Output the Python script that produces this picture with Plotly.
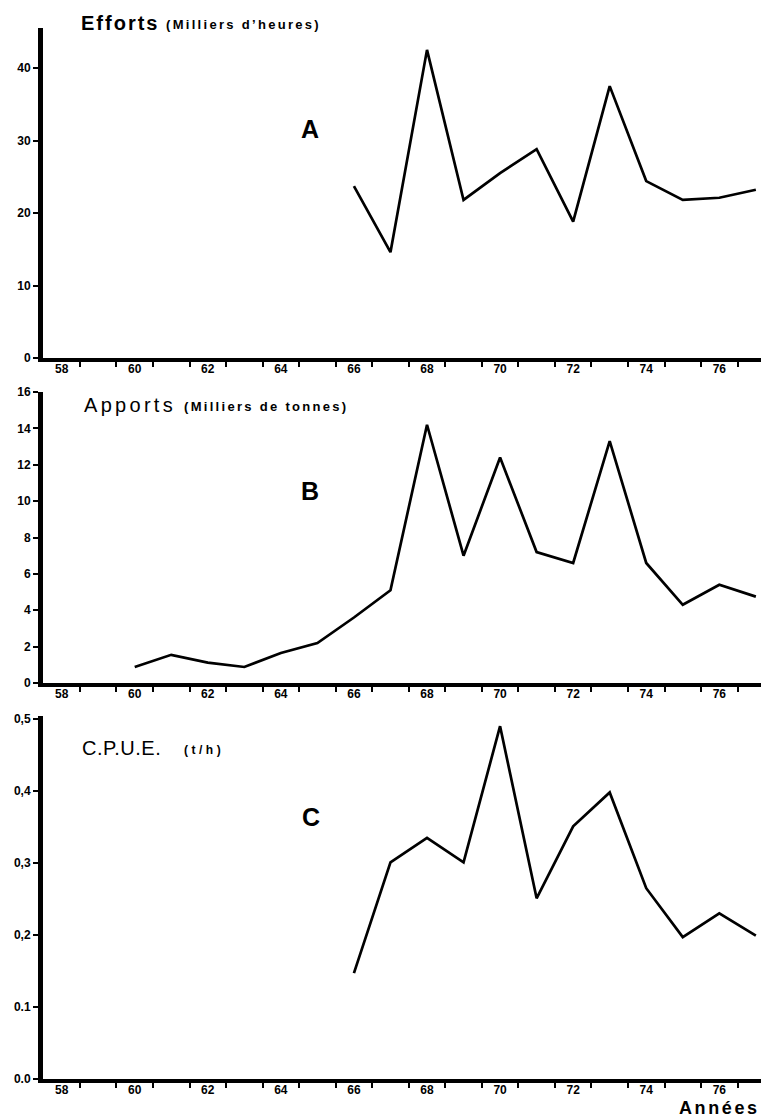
import plotly.graph_objects as go

# ---- data ----
years_A = [66, 67, 68, 69, 70, 71, 72, 73, 74, 75, 76, 77]
efforts = [23.7, 14.6, 42.5, 21.8, 25.5, 28.8, 18.8, 37.5, 24.4, 21.8, 22.1, 23.2]

years_B = [60, 61, 62, 63, 64, 65, 66, 67, 68, 69, 70, 71, 72, 73, 74, 75, 76, 77]
apports = [0.88, 1.55, 1.12, 0.88, 1.65, 2.2, 3.6, 5.1, 14.2, 7.0, 12.4, 7.2, 6.6, 13.3, 6.6, 4.3, 5.4, 4.75]

years_C = [66, 67, 68, 69, 70, 71, 72, 73, 74, 75, 76, 77]
cpue = [0.147, 0.301, 0.335, 0.301, 0.49, 0.251, 0.351, 0.398, 0.265, 0.197, 0.23, 0.199]

x_ticks = [58, 60, 62, 64, 66, 68, 70, 72, 74, 76]
x_labels = ["58", "60", "62", "64", "66", "68", "70", "72", "74", "76"]
x_minor = [58.5, 59.5, 60.5, 61.5, 62.5, 63.5, 64.5, 65.5, 66.5, 67.5,
           68.5, 69.5, 70.5, 71.5, 72.5, 73.5, 74.5, 75.5, 76.5]

yA_ticks = [0, 10, 20, 30, 40]
yA_labels = ["0", "10", "20", "30", "40"]
yB_ticks = [0, 2, 4, 6, 8, 10, 12, 14, 16]
yB_labels = ["0", "2", "4", "6", "8", "10", "12", "14", "16"]
yC_ticks = [0.0, 0.1, 0.2, 0.3, 0.4, 0.5]
yC_labels = ["0.0", "0.1", "0,2", "0,3", "0,4", "0,5"]

W, H = 769, 1119
FONT = "Liberation Sans, Arial, sans-serif"

# the page places the figure 8 px in from the top-left corner (body margin)
OFF_X, OFF_Y = 8.0, 8.0


def px(p):
    return (p - OFF_X) / W


def py(p):
    return 1 - (p - OFF_Y) / H


fig = go.Figure()
line = dict(color="black", width=2.7)
fig.add_trace(go.Scatter(x=years_A, y=efforts, mode="lines", line=line, xaxis="x", yaxis="y"))
fig.add_trace(go.Scatter(x=years_B, y=apports, mode="lines", line=line, xaxis="x2", yaxis="y2"))
fig.add_trace(go.Scatter(x=years_C, y=cpue, mode="lines", line=line, xaxis="x3", yaxis="y3"))

xdom = [px(43), px(769)]
xrange_ = [57.49, 77.36]


def xaxis(anchor):
    return dict(
        domain=xdom, range=xrange_, anchor=anchor,
        showline=True, linecolor="black", linewidth=4,
        showgrid=False, zeroline=False, automargin=False,
        tickmode="array", tickvals=x_ticks, ticktext=x_labels,
        ticks="", ticklabelstandoff=-3,
        tickfont=dict(family=FONT, size=12, color="black", weight="bold"),
        minor=dict(tickmode="array", tickvals=x_minor, ticks="outside",
                   ticklen=5, tickwidth=2, tickcolor="black", showgrid=False),
    )


def yaxis(anchor, dom, rng, tv, tt):
    return dict(
        domain=dom, range=rng, anchor=anchor,
        showline=True, linecolor="black", linewidth=5,
        showgrid=False, zeroline=False, automargin=False,
        tickmode="array", tickvals=tv, ticktext=tt,
        ticks="outside", ticklen=5, tickwidth=2, tickcolor="black",
        tickfont=dict(family=FONT, size=12, color="black", weight="bold"),
    )


fig.update_layout(
    width=W, height=H,
    margin=dict(l=0, r=0, t=0, b=0),
    paper_bgcolor="white", plot_bgcolor="white",
    showlegend=False,
    xaxis=xaxis("y"),
    xaxis2=xaxis("y2"),
    xaxis3=xaxis("y3"),
    yaxis=yaxis("x", [py(358), py(28)], [0, (358 - 28) / 7.25], yA_ticks, yA_labels),
    yaxis2=yaxis("x2", [py(683), py(392)], [0, 16], yB_ticks, yB_labels),
    yaxis3=yaxis("x3", [py(1079), py(716)], [0, (1079 - 716) / 720], yC_ticks, yC_labels),
)

ann = []


def text(x, y, s, size, bold=False, xanchor="left", spacing=0):
    if spacing:
        s = "<span style='letter-spacing:%spx'>%s</span>" % (spacing, s)
    ann.append(dict(
        x=px(x), y=py(y), xref="paper", yref="paper", text=s, showarrow=False,
        xanchor=xanchor, yanchor="middle",
        font=dict(family=FONT, size=size, color="black", weight="bold" if bold else "normal"),
    ))


text(79, 23, "Efforts", 20, bold=True, spacing=2)
text(164, 25, "(Milliers d’heures)", 13, bold=True, spacing=2.3)
text(82, 405, "Apports", 20, spacing=3.3)
text(182, 406, "(Milliers de tonnes)", 13, bold=True, spacing=2.3)
text(80, 748, "C.P.U.E.", 20, spacing=0.5)
text(182, 750, "(t/h)", 12, bold=True, spacing=3.5)
text(310, 129, "A", 25, bold=True, xanchor="center")
text(310, 491, "B", 25, bold=True, xanchor="center")
text(311, 817, "C", 25, bold=True, xanchor="center")
text(762, 1108, "Années", 18, bold=True, xanchor="right", spacing=2.6)

fig.update_layout(annotations=ann)

fig.write_html("out.html")
